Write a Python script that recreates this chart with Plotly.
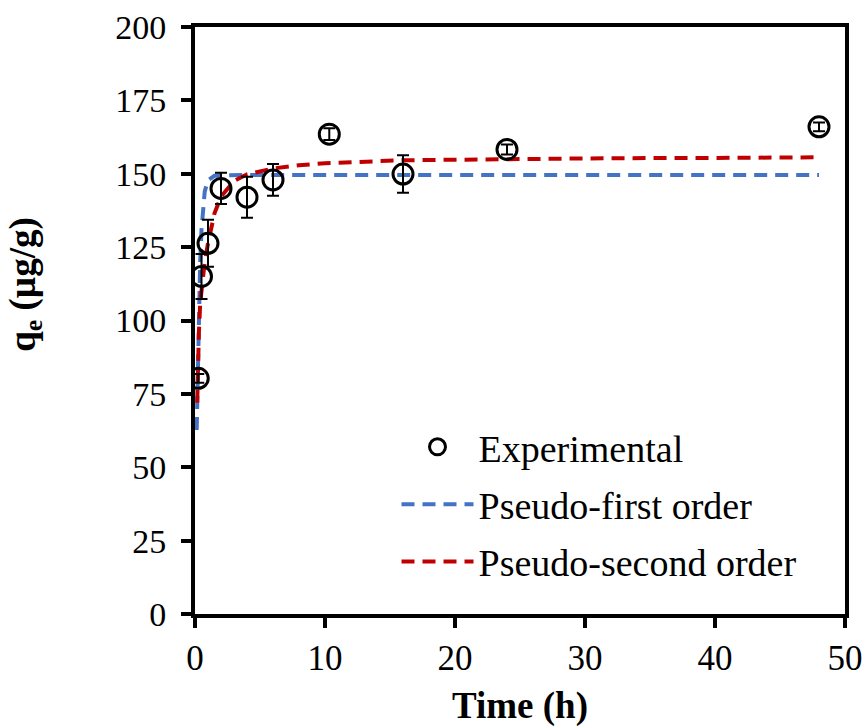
import plotly.graph_objects as go

# Experimental adsorption data (time in h, uptake in µg/g, with error)
t_exp = [0.25, 0.5, 1, 2, 4, 6, 10.33, 16, 24, 48]
q_exp = [80.3, 115.0, 126.3, 145.0, 142.0, 147.9, 163.5, 149.9, 158.3, 166.0]
q_err = [1.5, 7.7, 8.0, 5.3, 7.0, 5.4, 2.0, 6.4, 1.7, 1.5]

# Pseudo-first order fitted curve
t_pfo = [0.13, 0.2, 0.3, 0.4, 0.5, 0.75, 1, 1.5, 2, 3, 5, 10, 20, 30, 40, 48]
q_pfo = [62.7, 82.0, 103.0, 120.0, 131.0, 144.0, 147.8, 149.3, 149.5, 149.6,
         149.6, 149.6, 149.6, 149.6, 149.6, 149.6]

# Pseudo-second order fitted curve
t_pso = [0.17, 0.2, 0.3, 0.4, 0.5, 0.75, 1, 1.5, 2, 3, 4, 6, 8, 10, 16, 24, 32, 40, 48]
q_pso = [72.0, 79.0, 96.0, 106.0, 111.0, 120.0, 126.3, 136.5, 142.2, 147.5, 149.8,
         151.8, 152.9, 153.6, 154.6, 155.1, 155.3, 155.4, 155.6]

x_ticks = [0, 10, 20, 30, 40, 50]
y_ticks = [0, 25, 50, 75, 100, 125, 150, 175, 200]

FONT = "Liberation Serif, Times New Roman, serif"

fig = go.Figure()

fig.add_trace(go.Scatter(
    x=t_pfo, y=q_pfo, mode="lines", name="Pseudo-first order",
    legendgroup="b", legendrank=2,
    line=dict(color="#4472C4", width=4, dash="13px,8px"),
))
fig.add_trace(go.Scatter(
    x=t_pso, y=q_pso, mode="lines", name="Pseudo-second order",
    legendgroup="c", legendrank=3,
    line=dict(color="#C00000", width=4, dash="13px,8px"),
))
fig.add_trace(go.Scatter(
    x=t_exp, y=q_exp, mode="markers", name="Experimental",
    legendgroup="a", legendrank=1,
    marker=dict(symbol="circle-open", size=20, color="black", line=dict(width=3, color="black")),
    error_y=dict(type="data", array=q_err, visible=True, color="black", thickness=2, width=6),
))

fig.update_layout(
    width=866, height=727,
    margin=dict(l=195, r=21, t=27, b=113, autoexpand=False),
    paper_bgcolor="white", plot_bgcolor="white",
    font=dict(family=FONT, size=34, color="black"),
    showlegend=True,
    legend=dict(
        x=0.31, y=0.338, xanchor="left", yanchor="top",
        bgcolor="rgba(0,0,0,0)", traceorder="grouped",
        tracegroupgap=5, itemwidth=72,
        font=dict(family=FONT, size=38, color="black"),
    ),
    annotations=[dict(
        text="<b>q<sub>e</sub> (µg/g)</b>", textangle=-90,
        xref="paper", yref="paper", x=-0.262, y=0.562,
        xanchor="center", yanchor="middle", showarrow=False,
        font=dict(family=FONT, size=37, color="black"),
    )],
)

fig.update_xaxes(
    range=[0, 50], tickvals=x_ticks, ticktext=[str(v) for v in x_ticks],
    showgrid=False, zeroline=False, automargin=False,
    showline=True, linecolor="black", linewidth=4, mirror=True,
    ticks="outside", ticklen=10, tickwidth=4, tickcolor="black",
    tickfont=dict(family=FONT, size=35),
    title=dict(text="<b>Time (h)</b>", font=dict(family=FONT, size=37), standoff=20),
)
fig.update_yaxes(
    range=[0, 200], tickvals=y_ticks, ticktext=[str(v) for v in y_ticks],
    showgrid=False, zeroline=False, automargin=False,
    showline=True, linecolor="black", linewidth=4, mirror=True,
    ticks="outside", ticklen=10, tickwidth=4, tickcolor="black",
    tickfont=dict(family=FONT, size=34),
    ticklabelstandoff=8,
)

fig.write_html("out.html")
